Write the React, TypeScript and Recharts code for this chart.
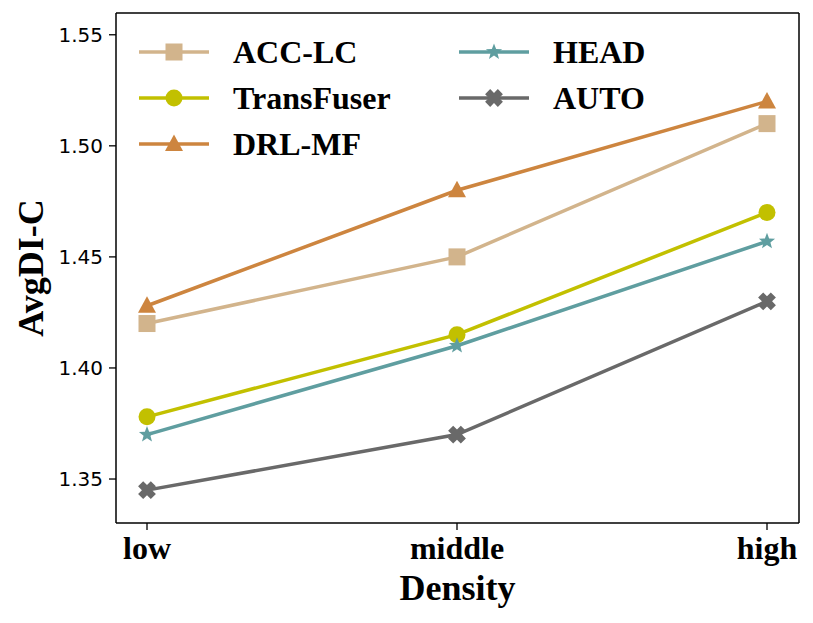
import React from 'react'
import { LineChart, Line, XAxis, YAxis, Legend } from 'recharts'

const densities = ['low', 'middle', 'high']
const accLc = [1.42, 1.45, 1.51]
const transFuser = [1.378, 1.415, 1.47]
const drlMf = [1.428, 1.48, 1.52]
const head = [1.37, 1.41, 1.457]
const auto = [1.345, 1.37, 1.43]
const yTicks = [1.35, 1.4, 1.45, 1.5, 1.55]

type Shape = 'square' | 'circle' | 'triangle' | 'star' | 'x'

const series: { key: string; name: string; color: string; shape: Shape; values: number[] }[] = [
  { key: 'acc', name: 'ACC-LC', color: '#d2b48c', shape: 'square', values: accLc },
  { key: 'trans', name: 'TransFuser', color: '#c2c000', shape: 'circle', values: transFuser },
  { key: 'drl', name: 'DRL-MF', color: '#cd853f', shape: 'triangle', values: drlMf },
  { key: 'head', name: 'HEAD', color: '#5f9ea0', shape: 'star', values: head },
  { key: 'auto', name: 'AUTO', color: '#696969', shape: 'x', values: auto },
]

const data = densities.map((d, i) => {
  const row: Record<string, string | number> = { density: d }
  series.forEach((s) => {
    row[s.key] = s.values[i]
  })
  return row
})

const serif = '"Liberation Serif", "Times New Roman", serif'
const yDomain = [1.3302, 1.5598]

function starPoints(cx: number, cy: number, R: number, r: number) {
  const pts: string[] = []
  for (let i = 0; i < 10; i++) {
    const rad = i % 2 === 0 ? R : r
    const a = -Math.PI / 2 + (i * Math.PI) / 5
    pts.push(`${cx + rad * Math.cos(a)},${cy + rad * Math.sin(a)}`)
  }
  return pts.join(' ')
}

function crossPoints(cx: number, cy: number, L: number, t: number) {
  const base = [
    [t, L], [t, t], [L, t], [L, -t], [t, -t], [t, -L],
    [-t, -L], [-t, -t], [-L, -t], [-L, t], [-t, t], [-t, L],
  ]
  const c = Math.SQRT1_2
  return base
    .map(([x, y]) => `${cx + (x - y) * c},${cy + (x + y) * c}`)
    .join(' ')
}

function Marker({ cx, cy, shape, color }: { cx: number; cy: number; shape: Shape; color: string }) {
  switch (shape) {
    case 'square':
      return <rect x={cx - 8.5} y={cy - 8.5} width={17} height={17} fill={color} />
    case 'circle':
      return <circle cx={cx} cy={cy} r={8.5} fill={color} />
    case 'triangle':
      return <polygon points={`${cx},${cy - 9.5} ${cx + 9},${cy + 7} ${cx - 9},${cy + 7}`} fill={color} />
    case 'star':
      return <polygon points={starPoints(cx, cy, 8.5, 3.6)} fill={color} />
    default:
      return <polygon points={crossPoints(cx, cy, 9, 3.6)} fill={color} />
  }
}

// legend placed inside the axes, two columns like the matplotlib one
const legendCols = [
  ['acc', 'trans', 'drl'],
  ['head', 'auto'],
]

function renderLegend() {
  return (
    <div style={{ position: 'relative', width: 0, height: 0 }}>
      {legendCols.map((col, ci) =>
        col.map((k, ri) => {
          const s = series.find((x) => x.key === k)!
          return (
            <div
              key={k}
              style={{
                position: 'absolute',
                left: ci === 0 ? 139 : 459,
                top: 52 + ri * 46 - 20,
                height: 40,
                display: 'flex',
                alignItems: 'center',
                whiteSpace: 'nowrap',
              }}
            >
              <svg width={70} height={20} style={{ display: 'block' }}>
                <line x1={0} y1={10} x2={70} y2={10} stroke={s.color} strokeWidth={3.5} />
                <Marker cx={35} cy={10} shape={s.shape} color={s.color} />
              </svg>
              <span
                style={{
                  marginLeft: 24,
                  fontFamily: serif,
                  fontWeight: 'bold',
                  fontSize: 32,
                  lineHeight: '40px',
                  color: '#000',
                }}
              >
                {s.name}
              </span>
            </div>
          )
        })
      )}
    </div>
  )
}

export default function App() {
  return (
    <div style={{ position: 'absolute', left: 0, top: 0, background: '#fff' }}>
      <LineChart
        width={813}
        height={623}
        data={data}
        margin={{ top: 12, right: 13, bottom: 0, left: 0 }}
      >
        <XAxis
          dataKey="density"
          height={100}
          padding={{ left: 31, right: 32 }}
          tickSize={7}
          tickMargin={6}
          tick={{ fontFamily: serif, fontWeight: 'bold', fontSize: 32, fill: '#000' }}
          tickLine={{ stroke: '#000', strokeWidth: 1.3 }}
          axisLine={{ stroke: '#000', strokeWidth: 1.5 }}
          label={{
            content: (props: any) => {
              const vb = props.viewBox
              return (
                <text
                  x={vb.x + vb.width / 2}
                  y={vb.y + 77}
                  textAnchor="middle"
                  fontFamily={serif}
                  fontWeight="bold"
                  fontSize={36}
                  fill="#000"
                >
                  Density
                </text>
              )
            },
          }}
        />
        <XAxis
          xAxisId="top"
          dataKey="density"
          orientation="top"
          height={1}
          padding={{ left: 31, right: 32 }}
          tick={false}
          tickLine={false}
          axisLine={{ stroke: '#000', strokeWidth: 1.5 }}
        />
        <YAxis
          width={116}
          domain={yDomain}
          ticks={yTicks}
          allowDataOverflow
          tickFormatter={(v) => Number(v).toFixed(2)}
          tickSize={7}
          tickMargin={6}
          tick={{ fontFamily: '"DejaVu Sans", sans-serif', fontSize: 20, fill: '#000' }}
          tickLine={{ stroke: '#000', strokeWidth: 1.3 }}
          axisLine={{ stroke: '#000', strokeWidth: 1.5 }}
          label={{
            content: (props: any) => {
              const vb = props.viewBox
              const cx = vb.x + 31
              const cy = vb.y + vb.height / 2
              return (
                <text
                  x={cx}
                  y={cy}
                  transform={`rotate(-90 ${cx} ${cy})`}
                  textAnchor="middle"
                  dominantBaseline="central"
                  fontFamily={serif}
                  fontWeight="bold"
                  fontSize={36}
                  fill="#000"
                >
                  AvgDI-C
                </text>
              )
            },
          }}
        />
        <YAxis
          yAxisId="right"
          orientation="right"
          width={1}
          domain={yDomain}
          allowDataOverflow
          tick={false}
          tickLine={false}
          axisLine={{ stroke: '#000', strokeWidth: 1.5 }}
        />
        <Legend
          content={renderLegend}
          layout="horizontal"
          verticalAlign="middle"
          wrapperStyle={{ left: 0, top: 0, width: 0, height: 0 }}
        />
        {series.map((s) => (
          <Line
            key={s.key}
            dataKey={s.key}
            name={s.name}
            stroke={s.color}
            strokeWidth={3.5}
            isAnimationActive={false}
            dot={(p: any) => (
              <Marker key={`${s.key}-${p.index}`} cx={p.cx} cy={p.cy} shape={s.shape} color={s.color} />
            )}
            activeDot={false}
          />
        ))}
      </LineChart>
    </div>
  )
}
